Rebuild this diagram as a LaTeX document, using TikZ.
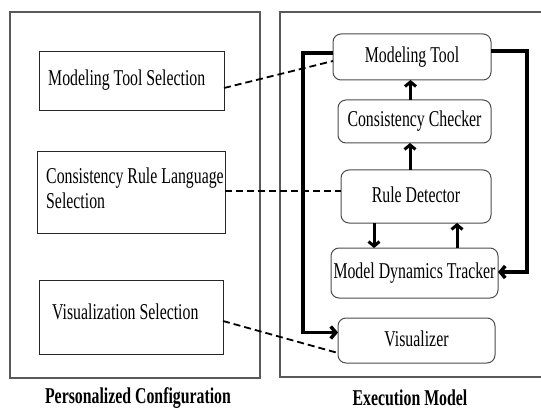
\documentclass[tikz,border=0pt]{standalone}
\usepackage{fontspec}
\setmainfont{Liberation Serif}[FakeStretch=0.7]
\usetikzlibrary{arrows.meta,calc}
\begin{document}
\begin{tikzpicture}[x=1pt,y=-1pt,
  font=\fontsize{22.6}{26}\selectfont,
  outerbox/.style={draw=black!65, line width=1.2pt},
  selbox/.style={draw=black!85, line width=1pt, inner sep=0pt, outer sep=0pt},
  compbox/.style={draw=black!70, line width=1pt, rounded corners=8pt, inner sep=0pt, outer sep=0pt, text height=15pt, text depth=4pt},
  lbl/.style={anchor=base west, inner sep=0pt},
  title/.style={anchor=base, inner sep=0pt, font=\fontsize{22.6}{26}\selectfont\bfseries},
  flow/.style={line width=3.5pt, line join=miter, -{Straight Barb[length=5pt,width=12pt]}},
  uparr/.style={line width=3pt, -{Straight Barb[length=4.5pt,width=11pt]}},
  link/.style={line width=1.8pt, dash pattern=on 7pt off 4pt}
]
\useasboundingbox (0,0) rectangle (541,409);

% outer frames
\draw[outerbox] (10,12) rectangle (260,378);
\draw[outerbox] (545,12) -- (280,12) -- (280,377) -- (545,377);

% left column boxes
\node[selbox, minimum width=185pt, minimum height=59pt] (mts) at (131.5,81.5) {};
\node[selbox, minimum width=188pt, minimum height=81pt] (crl) at (131,192.5) {};
\node[selbox, minimum width=184pt, minimum height=74pt] (vs) at (131,317) {};
\node[lbl] (mtsT) at (48,86) {Modeling Tool Selection};
\node[lbl] (crlT1) at (46,183) {Consistency Rule Language};
\node[lbl] (crlT2) at (46,208) {Selection};
\node[lbl] (vsT) at (52,319) {Visualization Selection};

% right column boxes
\node[compbox, minimum width=158pt, minimum height=46pt] (mt) at (412,57) {Modeling Tool};
\node[compbox, minimum width=153pt, minimum height=43pt] (cc) at (414.5,121.5) {Consistency Checker};
\node[compbox, minimum width=150pt, minimum height=53pt] (rd) at (416,196.5) {Rule Detector};
\node[compbox, minimum width=167pt, minimum height=50pt] (mdt) at (414.5,273) {Model Dynamics Tracker};
\node[compbox, minimum width=157pt, minimum height=45pt] (viz) at (416.5,340.5) {Visualizer};

% titles
\node[title] (t1) at (138,403) {Personalized Configuration};
\node[title] (t2) at (410,405) {Execution Model};

% thick flows
\draw[flow] ($(mt.west)+(0,-4)$) -- ($(mt.west)+(-30,-4)$) |- ($(viz.west)+(0,-8)$);
\draw[flow] ($(mt.east)+(0,-6)$) -- ($(mt.east)+(36,-6)$) |- ($(mdt.east)+(0,-1)$);

% vertical arrows
\coordinate (a1) at ($(cc.north)+(-4,0)$);
\draw[uparr] (a1) -- (a1 |- mt.south);
\coordinate (a2) at ($(rd.north)+(-6,0)$);
\draw[uparr] (a2) -- (a2 |- cc.south);
\coordinate (a3) at ($(rd.south)+(-42,0)$);
\draw[uparr] (a3) -- (a3 |- mdt.north);
\coordinate (a4) at ($(mdt.north)+(42.5,0)$);
\draw[uparr] (a4) -- (a4 |- rd.south);

% dashed links
\draw[link] ($(mts.east)+(0,6.5)$) -- ($(mt.west)+(0,4)$);
\draw[link] ($(crl.east)+(0,-1.5)$) -- ($(rd.west)+(0,-5.5)$);
\draw[link] ($(vs.east)+(0,4)$) -- ($(viz.west)+(0,12.5)$);
\end{tikzpicture}
\end{document}
